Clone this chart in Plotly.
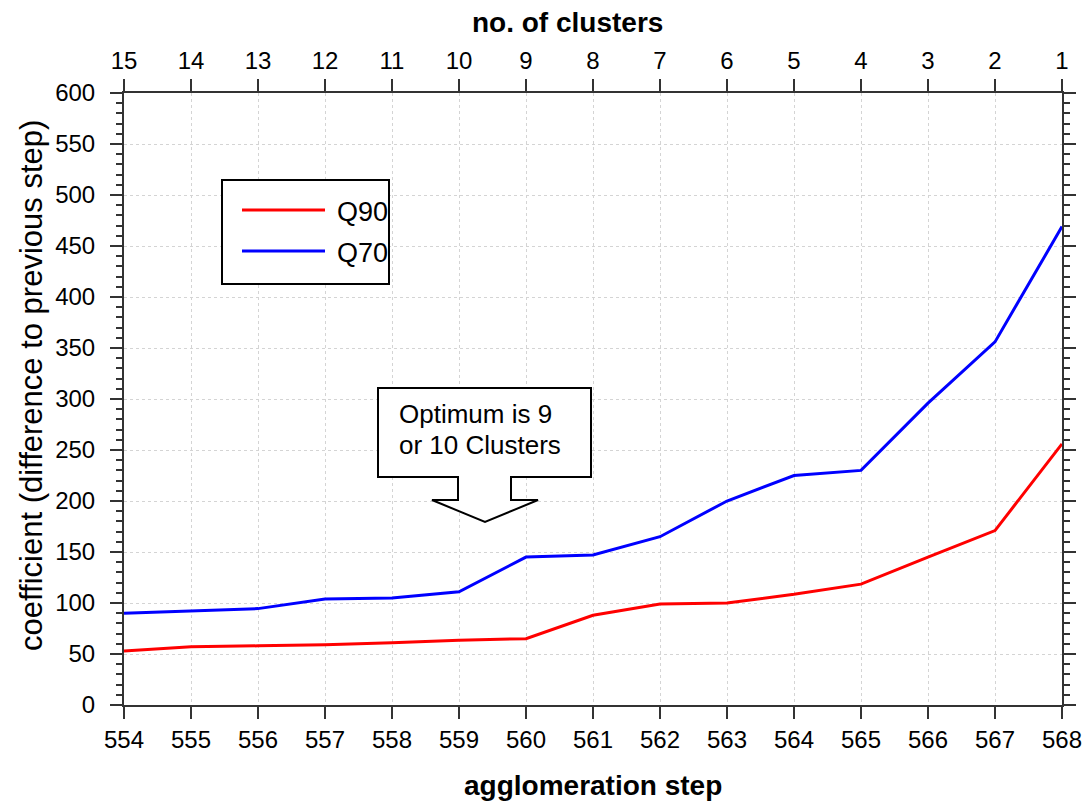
import plotly.graph_objects as go

steps = [554, 555, 556, 557, 558, 559, 560, 561, 562, 563, 564, 565, 566, 567, 568]
clusters = ["15", "14", "13", "12", "11", "10", "9", "8", "7", "6", "5", "4", "3", "2", "1"]
q90 = [53, 57, 58, 59, 61, 63.5, 65, 88, 99, 100, 108.5, 118.5, 145, 171, 256]
q70 = [90, 92, 94.5, 104, 105, 111, 145, 147, 165, 200, 225, 230, 296, 356, 469]

W, H = 1087, 803
L, R, T, B = 124, 25, 93, 98
pw, ph = W - L - R, H - T - B

def px(xp):
    return (xp - L) / pw

def py(yp):
    return 1 - (yp - T) / ph

FONT = "Liberation Sans, Arial, sans-serif"

fig = go.Figure()
fig.add_trace(go.Scatter(x=steps, y=q90, mode="lines", name="Q90",
                         line=dict(color="#ff0000", width=3), showlegend=False))
fig.add_trace(go.Scatter(x=steps, y=q70, mode="lines", name="Q70",
                         line=dict(color="#0000ff", width=3), showlegend=False))
fig.add_trace(go.Scatter(x=steps, y=q70, xaxis="x2", mode="lines",
                         line=dict(width=0), opacity=0, hoverinfo="skip", showlegend=False))

axis_common = dict(showline=True, linecolor="#333333", linewidth=2,
                   showgrid=True, gridcolor="#d4d4d4", griddash="dot", gridwidth=1,
                   tickfont=dict(family=FONT, size=24, color="black"),
                   ticks="outside", ticklen=12, tickcolor="#333333", tickwidth=1.5,
                   zeroline=False, automargin=False)

fig.update_layout(
    width=W, height=H,
    margin=dict(l=L, r=R, t=T, b=B),
    plot_bgcolor="white", paper_bgcolor="white",
    font=dict(family=FONT, color="black"),
    xaxis=dict(range=[554, 568], tickvals=steps, mirror=True, **axis_common),
    xaxis2=dict(range=[554, 568], tickvals=steps, ticktext=clusters, overlaying="x",
                side="top", anchor="y", showline=True, linecolor="#333333", linewidth=2,
                showgrid=False, ticks="outside", ticklen=12, tickcolor="#333333",
                tickwidth=1.5, tickfont=dict(family=FONT, size=24, color="black"),
                automargin=False),
    yaxis=dict(range=[0, 600], dtick=50, mirror="ticks", ticklabelstandoff=10,
               minor=dict(dtick=10, ticks="outside", ticklen=6, tickcolor="#333333", showgrid=False),
               **axis_common),
)

# axis titles
fig.add_annotation(xref="paper", yref="paper", x=px(567), y=py(23), text="<b>no. of clusters</b>",
                   showarrow=False, xanchor="center", yanchor="middle",
                   font=dict(family=FONT, size=28, color="black"))
fig.add_annotation(xref="paper", yref="paper", x=px(593), y=py(785), text="<b>agglomeration step</b>",
                   showarrow=False, xanchor="center", yanchor="middle",
                   font=dict(family=FONT, size=28, color="black"))
fig.add_annotation(xref="paper", yref="paper", x=px(31), y=py(386),
                   text="coefficient (difference to previous step)", textangle=-90,
                   showarrow=False, xanchor="center", yanchor="middle",
                   font=dict(family=FONT, size=31, color="black"))

shapes = []
# legend box
shapes.append(dict(type="rect", xref="paper", yref="paper",
                   x0=px(222), x1=px(389), y0=py(284), y1=py(180),
                   line=dict(color="black", width=2), fillcolor="white"))
shapes.append(dict(type="line", xref="paper", yref="paper",
                   x0=px(242), x1=px(325), y0=py(210), y1=py(210),
                   line=dict(color="#ff0000", width=3)))
shapes.append(dict(type="line", xref="paper", yref="paper",
                   x0=px(242), x1=px(325), y0=py(251), y1=py(251),
                   line=dict(color="#0000ff", width=3)))
# callout arrow box
pts = [(378, 388), (591, 388), (591, 477), (511, 477), (511, 500), (538, 500),
       (485, 522), (432, 500), (458, 500), (458, 477), (378, 477)]
path = "M " + " L ".join(f"{px(x):.5f},{py(y):.5f}" for x, y in pts) + " Z"
shapes.append(dict(type="path", xref="paper", yref="paper", path=path,
                   line=dict(color="black", width=2), fillcolor="white"))
fig.update_layout(shapes=shapes)

fig.add_annotation(xref="paper", yref="paper", x=px(335), y=py(212), text="Q90",
                   showarrow=False, xanchor="left", yanchor="middle",
                   font=dict(family=FONT, size=27, color="black"))
fig.add_annotation(xref="paper", yref="paper", x=px(335), y=py(253), text="Q70",
                   showarrow=False, xanchor="left", yanchor="middle",
                   font=dict(family=FONT, size=27, color="black"))
fig.add_annotation(xref="paper", yref="paper", x=px(397), y=py(414),
                   text="Optimum is 9", align="left",
                   showarrow=False, xanchor="left", yanchor="middle",
                   font=dict(family=FONT, size=26, color="black"))
fig.add_annotation(xref="paper", yref="paper", x=px(397), y=py(445),
                   text="or 10 Clusters", align="left",
                   showarrow=False, xanchor="left", yanchor="middle",
                   font=dict(family=FONT, size=26, color="black"))

fig.write_html("out.html", config={"displayModeBar": False},
               post_script="document.body.style.margin='0';document.body.style.overflow='hidden';")
